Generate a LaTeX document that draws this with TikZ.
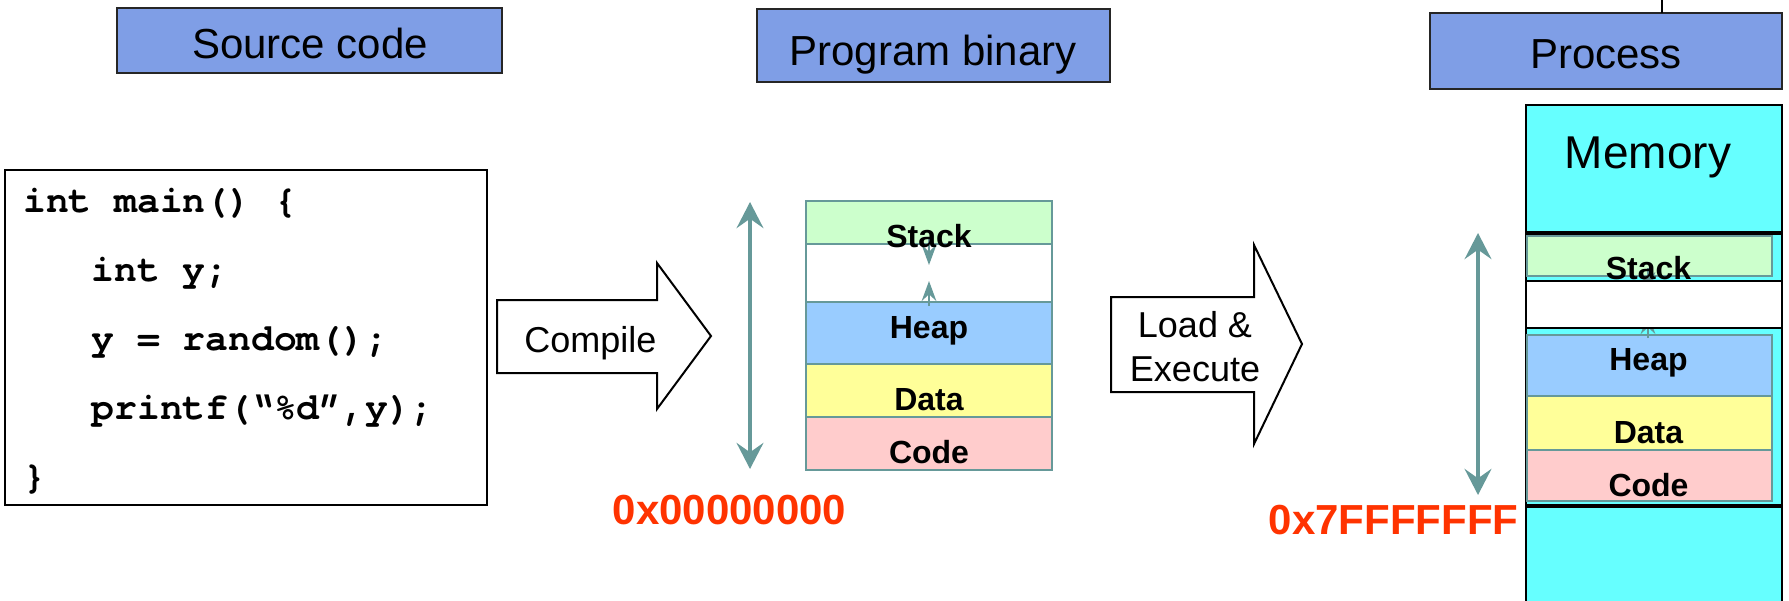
\documentclass[tikz,border=0pt]{standalone}
\usepackage{fontspec}
\setmainfont{Liberation Sans}
\setmonofont{texgyrecursor}[Extension=.otf, UprightFont=*-regular, BoldFont=*-bold]
\usetikzlibrary{arrows.meta}
\definecolor{hdrblue}{RGB}{127,158,230}
\definecolor{tealc}{RGB}{102,153,153}
\definecolor{stackc}{RGB}{204,255,204}
\definecolor{heapc}{RGB}{153,204,255}
\definecolor{datac}{RGB}{255,255,153}
\definecolor{codec}{RGB}{255,204,204}
\definecolor{memc}{RGB}{102,255,255}
\definecolor{addrc}{RGB}{255,51,0}
\tikzset{
  hdrbox/.style={draw=black!85, line width=1.5pt, fill=hdrblue},
  hdrtext/.style={font=\fontsize{31.5}{36}\selectfont, anchor=base, inner sep=0pt},
  codetext/.style={font=\ttfamily\bfseries\fontsize{28.5}{32}\selectfont, anchor=base west, inner sep=0pt},
  codebox/.style={draw=black, line width=1.5pt, fill=white},
  bigshape/.style={draw=black, line width=1.5pt, fill=white, line join=miter},
  arrtext/.style={font=\fontsize{27}{32}\selectfont, anchor=base, inner sep=0pt},
  seg/.style={draw=tealc, line width=1.5pt},
  segtext/.style={font=\bfseries\fontsize{24}{28}\selectfont, anchor=base, inner sep=0pt},
  addrtext/.style={font=\bfseries\fontsize{31.5}{36}\selectfont, text=addrc, anchor=base, inner sep=0pt},
  bigarr/.style={draw=tealc, line width=3pt,
    {Stealth[length=19.5pt,width=20pt,inset=7pt]}-{Stealth[length=19.5pt,width=20pt,inset=7pt]}},
  smallarr/.style={draw=tealc, line width=1.2pt,
    -{Stealth[length=15pt,width=11pt,inset=5pt]}},
}
\begin{document}
\begin{tikzpicture}[x=0.75pt,y=-0.75pt]
\useasboundingbox (0,0) rectangle (1789,600);
\fill[white] (0,0) rectangle (1789,600);

% ---------- headers ----------
\draw[hdrbox] (117,8) rectangle (502,73);
\node[hdrtext] (srchdr) at (310,58.5) {Source code};
\draw[hdrbox] (757,9) rectangle (1110,82);
\node[hdrtext] (binhdr) at (933,65) {Program binary};
\draw[hdrbox] (1430,13) rectangle (1782,89);
\node[hdrtext] (prochdr) at (1606,68) {Process};
\coordinate (topline) at (1662,0);
\coordinate (toplineend) at (1662,13);
\draw[black, line width=1.1pt] (topline) -- (toplineend);

% ---------- source code ----------
\draw[codebox] (5,170) rectangle (487,505);
\node[codetext] (c1) at (23,212) {int main() \{};
\node[codetext] (c2) at (91.4,281) {int y;};
\node[codetext] (c3) at (91.4,350) {y = random();};
\node[codetext] (c4) at (91.4,419) {printf(“\%d”,y);};
\node[codetext] (c5) at (23,488) {\}};

% ---------- compile arrow ----------
\draw[bigshape] (497,300) -- (657,300) -- (657,263) -- (711,336) -- (657,409) -- (657,373) -- (497,373) -- cycle;
\node[arrtext] (compile) at (590.5,352) {Compile};

% ---------- program binary memory ----------
\coordinate (la1) at (750,202);
\coordinate (la2) at (750,469);
\draw[bigarr] (la1) -- (la2);

\draw[seg, fill=stackc] (806,201) rectangle (1052,244);
\draw[seg, fill=white] (806,244) rectangle (1052,302);
\draw[seg, fill=heapc] (806,302) rectangle (1052,364);
\draw[seg, fill=datac] (806,364) rectangle (1052,417);
\draw[seg, fill=codec] (806,417) rectangle (1052,470);
\coordinate (ls1) at (929,238);
\coordinate (ls2) at (929,265);
\coordinate (lh1) at (929,306);
\coordinate (lh2) at (929,281);
\draw[smallarr] (ls1) -- (ls2);
\draw[smallarr] (lh1) -- (lh2);
\node[segtext] (lstack) at (929,247) {Stack};
\node[segtext] (lheap) at (929,338) {Heap};
\node[segtext] (ldata) at (929,410) {Data};
\node[segtext] (lcode) at (929,463) {Code};
\node[addrtext] (addr0) at (729.5,524) {0x00000000};

% ---------- load & execute arrow ----------
\draw[bigshape] (1111,297) -- (1254,297) -- (1254,245) -- (1302,344) -- (1254,444) -- (1254,392) -- (1111,392) -- cycle;
\node[arrtext] (loadtxt) at (1195,337) {Load \&};
\node[arrtext] (exectxt) at (1195,381) {Execute};

% ---------- process memory ----------
\fill[memc] (1526,105) rectangle (1782,602);
\draw[black, line width=1.5pt] (1526,602) -- (1526,105) -- (1782,105) -- (1782,602);
\node[font=\fontsize{34.5}{40}\selectfont, anchor=base, inner sep=0pt] (memtxt) at (1648,168) {Memory};

\draw[seg, line width=1pt, fill=stackc] (1527,236) rectangle (1772,276);
\draw[seg, line width=1pt, fill=heapc] (1527,335) rectangle (1772,396);
\draw[seg, line width=1pt, fill=datac] (1527,396) rectangle (1772,450);
\draw[seg, line width=1pt, fill=codec] (1527,450) rectangle (1772,501);
\coordinate (rs1) at (1648,268);
\coordinate (rs2) at (1648,292);
\coordinate (rh1) at (1648,338);
\coordinate (rh2) at (1648,314);
\draw[smallarr] (rs1) -- (rs2);
\draw[smallarr] (rh1) -- (rh2);
\draw[black, line width=1.5pt, fill=white] (1526,281) rectangle (1782,328);
\draw[black, line width=3pt] (1526,233) -- (1782,233);
\draw[black, line width=3pt] (1526,506) -- (1782,506);
\node[segtext] (rstack) at (1648.5,279) {Stack};
\node[segtext] (rheap) at (1648.5,370) {Heap};
\node[segtext] (rdata) at (1648.5,443) {Data};
\node[segtext] (rcode) at (1648.5,496) {Code};

\coordinate (ra1) at (1478,233);
\coordinate (ra2) at (1478,495);
\draw[bigarr] (ra1) -- (ra2);
\node[addrtext] (addr7) at (1393.5,534) {0x7FFFFFFF};
\end{tikzpicture}
\end{document}
